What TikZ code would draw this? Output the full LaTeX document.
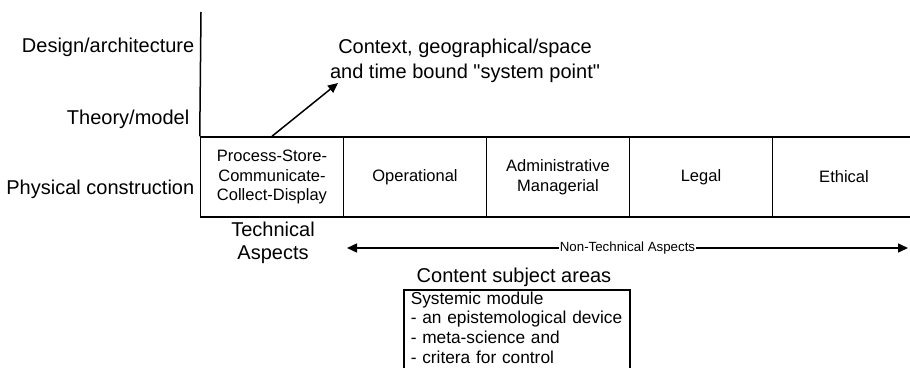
\documentclass[tikz,border=0pt]{standalone}
\usepackage{fontspec}
\setmainfont{Liberation Sans}[Ligatures=TeXOff]
\usetikzlibrary{arrows.meta}
\begin{document}
\begin{tikzpicture}[x=1pt,y=-1pt,
  line width=1.5pt,
  big/.style={font=\fontsize{20}{23}\selectfont, inner sep=0pt},
  cell/.style={draw, minimum width=143pt, minimum height=80pt, inner sep=0pt,
    align=center, font=\fontsize{16.5}{19.5}\selectfont},
  arrowtip/.style={-{Triangle[length=10pt,width=9pt]}},
  bothtips/.style={{Triangle[length=10pt,width=9pt]}-{Triangle[length=10pt,width=9pt]}},
  smalllabel/.style={font=\fontsize{13.3}{15}\selectfont, fill=white, inner xsep=0.5pt, inner ysep=1pt},
  listbox/.style={draw, anchor=north west, align=left, inner xsep=7pt, inner ysep=2pt,
    text width=212pt, text depth=80pt, font=\fontsize{17.3}{19.6}\selectfont}
]
\useasboundingbox (0,0) rectangle (910,367);
\clip (0,0) rectangle (910,367);

% level labels on the left
\node[big, anchor=base east] (lDesign) at (195,52) {Design/architecture};
\node[big, anchor=base east] (lTheory) at (190,124) {Theory/model};
\node[big, anchor=base east] (lPhys) at (195,194) {Physical construction};

% strip of aspect cells
\node[cell] (c1) at (272,177) {Process-Store-\\Communicate-\\Collect-Display};
\node[cell] (c2) at (415,177) {Operational};
\node[cell] (c3) at (558,177) {Administrative\\Managerial};
\node[cell] (c4) at (701,177) {Legal};
\node[cell] (c5) at (844,177) {Ethical};

% vertical axis
\coordinate (axisTop) at (201,12);
\draw (axisTop) -- (c1.north west);

% system point context
\node[big, align=center, font=\fontsize{20}{24.4}\selectfont] (ctx) at (465,61)
  {Context, geographical/space\\and time bound "system point"};
\coordinate (ctxTip) at (338,83);
\draw[arrowtip] (c1.north) -- (ctxTip);

% aspect groupings
\node[big, align=center] (tech) at (273,243) {Technical\\Aspects};
\coordinate (ntL) at (347,248);
\coordinate (ntR) at (908,248);
\draw[bothtips] (ntL) -- node[smalllabel] (ntLabel) {Non-Technical Aspects} (ntR);

% content subject areas
\node[big, anchor=base] (content) at (514,282) {Content subject areas};
\node[listbox] (sys) at (403,289)
  {Systemic module\\- an epistemological device\\- meta-science and\\- critera for control};
\end{tikzpicture}
\end{document}
